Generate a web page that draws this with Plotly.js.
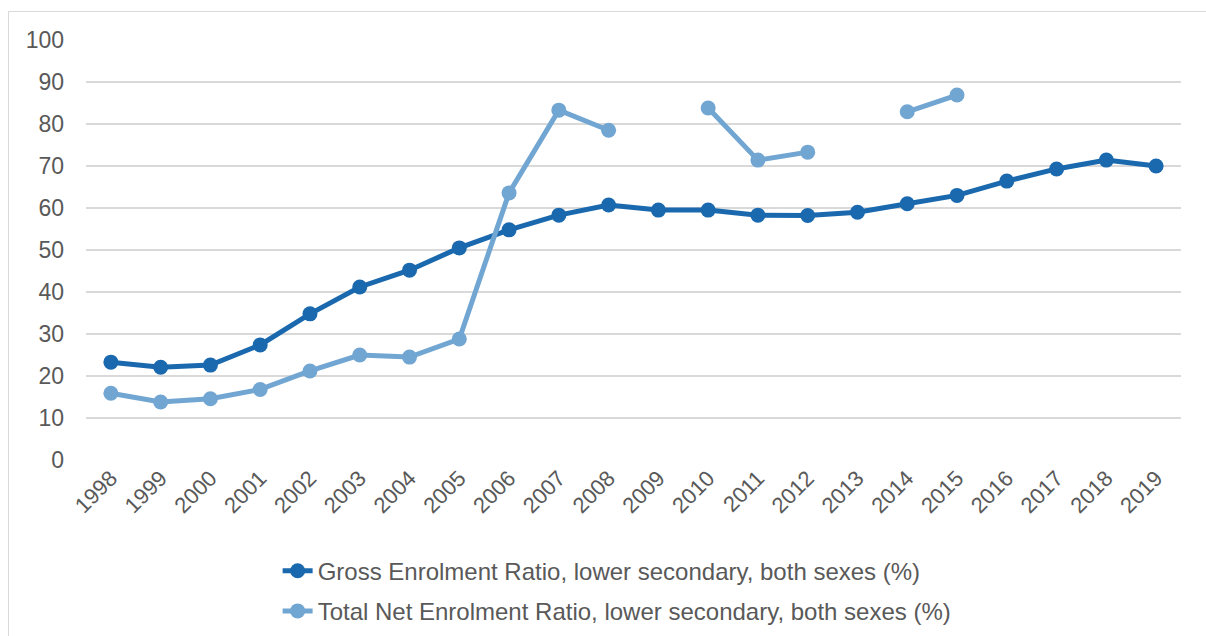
<!DOCTYPE html>
<html>
<head>
<meta charset="utf-8">
<script src="https://cdn.plot.ly/plotly-3.0.1.min.js"></script>
<style>
html,body{margin:0;padding:0;background:#fff;}
#wrap{position:relative;width:1206px;height:636px;overflow:hidden;}
#frame{position:absolute;left:8px;top:11px;width:1300px;height:700px;border-left:1px solid #d9d9d9;border-top:1px solid #d9d9d9;}
#chart{position:absolute;left:0;top:0;width:1206px;height:636px;}
</style>
</head>
<body>
<div id="wrap"><div id="frame"></div><div id="chart"></div></div>
<script>
const years = ['1998','1999','2000','2001','2002','2003','2004','2005','2006','2007','2008','2009','2010','2011','2012','2013','2014','2015','2016','2017','2018','2019'];
const grossName = 'Gross Enrolment Ratio, lower secondary, both sexes (%)';
const netName = 'Total Net Enrolment Ratio, lower secondary, both sexes (%)';
const grossValues = [23.3,22.1,22.6,27.4,34.8,41.2,45.2,50.5,54.8,58.3,60.7,59.5,59.5,58.3,58.2,59.0,61.0,63.0,66.4,69.3,71.4,70.0];
const netValues = [15.9,13.8,14.6,16.8,21.2,25.0,24.5,28.8,63.6,83.3,78.5,null,83.8,71.4,73.3,null,82.9,86.9,null,null,null,null];
const yTicks = [0,10,20,30,40,50,60,70,80,90,100];

const font = {family:'"Liberation Sans", Arial, sans-serif', color:'#595959'};
const data = [
  {x:years, y:grossValues, name:grossName, type:'scatter', mode:'lines+markers',
   line:{color:'#1a69ae', width:5}, marker:{color:'#1a69ae', size:15}, legendgroup:'g1', connectgaps:false},
  {x:years, y:netValues, name:netName, type:'scatter', mode:'lines+markers',
   line:{color:'#72a6d2', width:5}, marker:{color:'#72a6d2', size:15}, legendgroup:'g2', connectgaps:false}
];
const layout = {
  width:1206, height:636,
  margin:{l:86, r:25, t:40, b:176, autoexpand:false},
  paper_bgcolor:'rgba(0,0,0,0)', plot_bgcolor:'rgba(0,0,0,0)',
  font:Object.assign({size:22}, font),
  showlegend:true,
  legend:{orientation:'v', x:0.175, xanchor:'left', y:-0.211, yanchor:'top',
          font:Object.assign({size:24}, font), traceorder:'grouped', tracegroupgap:6,
          bgcolor:'rgba(0,0,0,0)'},
  xaxis:{type:'category', range:[-0.5,21.5], tickangle:-45, showgrid:false, zeroline:false, automargin:false,
         showline:false, ticks:'', tickfont:Object.assign({size:22}, font), fixedrange:true},
  yaxis:{range:[0,100], tickvals:yTicks, ticktext:yTicks.map(String), showgrid:true, gridcolor:'#d9d9d9', gridwidth:1.5,
         zeroline:false, showline:false, ticks:'', ticklabelstandoff:21, automargin:false,
         tickfont:Object.assign({size:23}, font), fixedrange:true}
};
Plotly.newPlot('chart', data, layout, {displayModeBar:false, staticPlot:true});
</script>
</body>
</html>
